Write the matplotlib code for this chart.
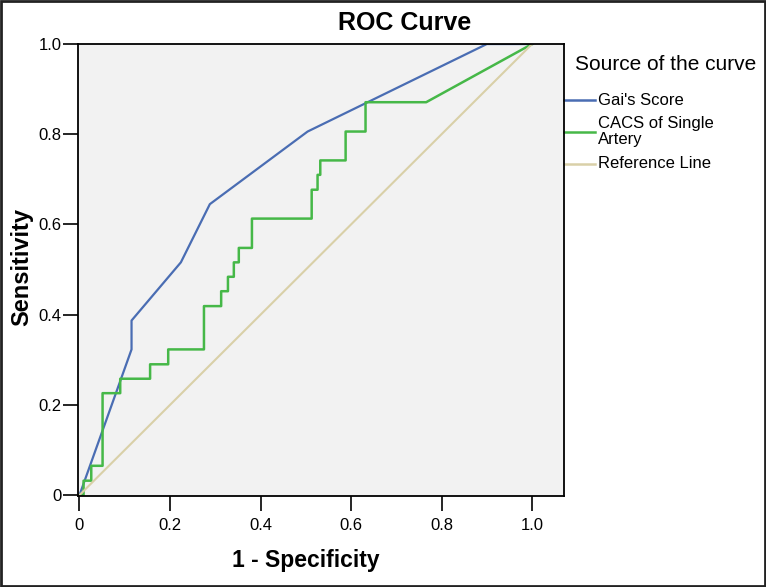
"""ROC curve, Gai's score vs CACS of single artery"""
import matplotlib
matplotlib.use("Agg")
import matplotlib.pyplot as plt
from matplotlib.patches import Rectangle

plt.rcParams['font.family'] = ['Liberation Sans', 'DejaVu Sans']

# Gai's Score
gai_fpr = [0.0, 0.115, 0.115, 0.224, 0.288, 0.504, 0.90, 1.0]
gai_tpr = [0.0, 0.323, 0.387, 0.516, 0.645, 0.806, 1.0, 1.0]

# CACS of Single Artery (step curve)
cacs_fpr = [0.0, 0.009, 0.009, 0.026, 0.026, 0.051, 0.051, 0.090, 0.090,
            0.156, 0.156, 0.196, 0.196, 0.275, 0.275, 0.313, 0.313, 0.328,
            0.328, 0.341, 0.341, 0.352, 0.352, 0.381, 0.381, 0.513, 0.513,
            0.526, 0.526, 0.532, 0.532, 0.588, 0.588, 0.632, 0.632, 0.766, 1.0]
cacs_tpr = [0.0, 0.0, 0.032, 0.032, 0.065, 0.065, 0.226, 0.226, 0.258,
            0.258, 0.290, 0.290, 0.323, 0.323, 0.419, 0.419, 0.452, 0.452,
            0.484, 0.484, 0.516, 0.516, 0.548, 0.548, 0.613, 0.613, 0.677,
            0.677, 0.710, 0.710, 0.742, 0.742, 0.806, 0.806, 0.871, 0.871, 1.0]

# Reference line
ref_x = [0.0, 1.0]
ref_y = [0.0, 1.0]

ticks = [0.0, 0.2, 0.4, 0.6, 0.8, 1.0]
tick_labels = ["0", "0.2", "0.4", "0.6", "0.8", "1.0"]

series_names = ["Gai's Score", "CACS of Single\nArtery", "Reference Line"]

BLUE = "#4a6db3"
GREEN = "#46b848"
TAN = "#d9d0a8"


def main():
    fig = plt.figure(figsize=(7.66, 5.87), dpi=100)
    ax = fig.add_axes([0.102, 0.155, 0.634, 0.770])
    ax.set_facecolor("#f2f2f2")

    ax.plot(gai_fpr, gai_tpr, color=BLUE, lw=1.6)
    ax.plot(cacs_fpr, cacs_tpr, color=GREEN, lw=1.8)
    ax.plot(ref_x, ref_y, color=TAN, lw=1.5)

    ax.set_xlim(-0.003, 1.07)
    ax.set_ylim(-0.002, 1.0)
    ax.set_xticks(ticks)
    ax.set_xticklabels(tick_labels)
    ax.set_yticks(ticks)
    ax.set_yticklabels(tick_labels)
    ax.tick_params(axis="both", direction="out", length=11, width=1.2,
                   labelsize=12, colors="black")
    ax.tick_params(axis="x", pad=5)
    ax.tick_params(axis="y", pad=1)
    for s in ax.spines.values():
        s.set_linewidth(1.3)
        s.set_color("black")

    fig.text(405 / 766, 1 - 23 / 587, "ROC Curve", fontsize=18,
             fontweight="bold", ha="center", va="center")
    fig.text(306 / 766, 1 - 560 / 587, "1 - Specificity", fontsize=16.5,
             fontweight="bold", ha="center", va="center")
    fig.text(22 / 766, 1 - 267 / 587, "Sensitivity", fontsize=17,
             fontweight="bold", ha="center", va="center", rotation=90)

    # legend drawn by hand to the right of the plot area
    ax.text(1.0226, 0.9547, "Source of the curve", transform=ax.transAxes,
            fontsize=15, ha="left", va="center")
    key_y = [0.876, 0.806, 0.735]
    for name, color, y in zip(series_names, [BLUE, GREEN, TAN], key_y):
        ax.plot([1.0, 1.064], [y, y], color=color, lw=1.8,
                transform=ax.transAxes, clip_on=False)
        ax.text(1.07, y, name, transform=ax.transAxes, fontsize=12,
                ha="left", va="center", linespacing=1.12)

    # frame around the image
    fig.patches.append(Rectangle((0.001, 0.001), 0.998, 0.998,
                                 transform=fig.transFigure, fill=False,
                                 edgecolor="#222222", lw=2))

    fig.savefig("out.png", dpi=100)


if __name__ == '__main__':
    main()
